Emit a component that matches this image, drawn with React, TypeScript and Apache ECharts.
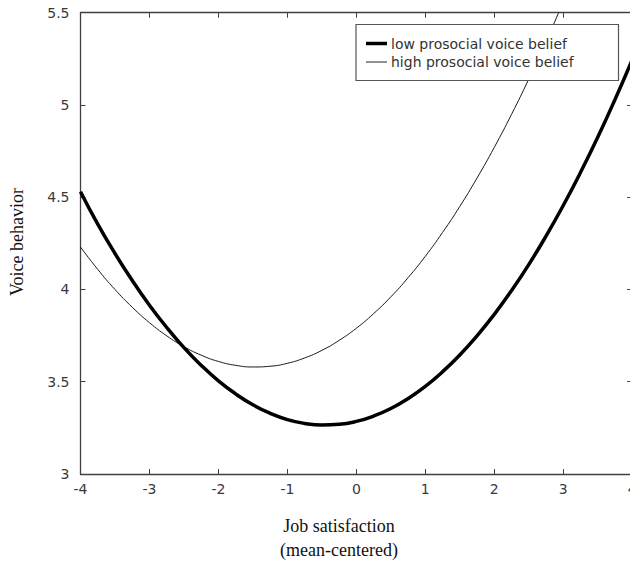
import React, { useEffect, useRef } from "react";
import * as echarts from "echarts";

const xValues = [
  -4, -3.75, -3.5, -3.25, -3, -2.75, -2.5, -2.25, -2, -1.75, -1.5, -1.25, -1, -0.75, -0.5, -0.25,
  0, 0.25, 0.5, 0.75, 1, 1.25, 1.5, 1.75, 2, 2.25, 2.5, 2.75, 3, 3.25, 3.5, 3.75, 4,
];
const lowBelief = [
  4.53, 4.354, 4.195, 4.049, 3.915, 3.794, 3.685, 3.589, 3.505, 3.434, 3.375, 3.329, 3.295, 3.274, 3.265, 3.269,
  3.285, 3.314, 3.355, 3.409, 3.475, 3.554, 3.645, 3.749, 3.865, 3.994, 4.135, 4.289, 4.455, 4.634, 4.825, 5.029, 5.245,
];
const highBelief = [
  4.23, 4.109, 4.0, 3.904, 3.82, 3.749, 3.69, 3.644, 3.61, 3.589, 3.58, 3.584, 3.6, 3.629, 3.67, 3.724,
  3.79, 3.869, 3.96, 4.064, 4.18, 4.309, 4.45, 4.604, 4.77, 4.949, 5.14, 5.344, 5.56, 5.789,
];
const seriesNames = ["low prosocial voice belief", "high prosocial voice belief"];
const xTitle = ["Job satisfaction", "(mean-centered)"];
const yTitle = "Voice behavior";

export default function App() {
  const ref = useRef<HTMLDivElement>(null);
  useEffect(() => {
    if (!ref.current) return;
    const chart = echarts.init(ref.current, null, { renderer: "svg" });
    const axisColor = "#404040";
    const labelFont = { fontFamily: "DejaVu Sans", fontSize: 14, color: "#3a3a3a" };
    const serif = "'Liberation Serif', 'Times New Roman', serif";
    const baseAxis = {
      axisLine: { show: true, onZero: false, lineStyle: { color: axisColor, width: 1.3 } },
      axisTick: { show: true, inside: true, length: 5, lineStyle: { color: axisColor } },
      splitLine: { show: false },
    };
    chart.setOption({
      animation: false,
      backgroundColor: "#ffffff",
      grid: {
        left: 80.5, top: 12.7, width: 551.7, height: 461.3,
        containLabel: false, outerBoundsMode: "none",
      },
      xAxis: [
        { type: "value", min: -4, max: 4, interval: 1, position: "bottom", ...baseAxis, axisLabel: { ...labelFont, margin: 8 } },
        { type: "value", min: -4, max: 4, interval: 1, position: "top", ...baseAxis, axisLabel: { show: false } },
      ],
      yAxis: [
        { type: "value", min: 3, max: 5.5, interval: 0.5, position: "left", ...baseAxis, axisLabel: { ...labelFont, margin: 11 } },
        { type: "value", min: 3, max: 5.5, interval: 0.5, position: "right", ...baseAxis, axisLabel: { show: false } },
      ],
      series: [
        {
          name: seriesNames[0], type: "line", smooth: true, showSymbol: false, clip: true,
          xAxisIndex: 0, yAxisIndex: 0,
          lineStyle: { color: "#000000", width: 3.5 },
          data: lowBelief.map((v, i) => [xValues[i], v]),
          z: 3,
        },
        {
          name: seriesNames[1], type: "line", smooth: true, showSymbol: false, clip: true,
          xAxisIndex: 0, yAxisIndex: 0,
          lineStyle: { color: "#1a1a1a", width: 1 },
          data: highBelief.map((v, i) => [xValues[i], v]),
          z: 2,
        },
      ],
      graphic: [
        {
          type: "rect", z: 100,
          shape: { x: 356, y: 24.5, width: 262.5, height: 56 },
          style: { fill: "#ffffff", stroke: "#555555", lineWidth: 1.2 },
        },
        {
          type: "line", z: 101,
          shape: { x1: 366, y1: 43.5, x2: 387, y2: 43.5 },
          style: { stroke: "#000000", lineWidth: 3.5 },
        },
        {
          type: "line", z: 101,
          shape: { x1: 366, y1: 62, x2: 387, y2: 62 },
          style: { stroke: "#222222", lineWidth: 1 },
        },
        {
          type: "text", z: 101, x: 391, y: 43.5,
          style: { text: seriesNames[0], fontFamily: "DejaVu Sans", fontSize: 14, fill: "#333333", verticalAlign: "middle" },
        },
        {
          type: "text", z: 101, x: 391, y: 62,
          style: { text: seriesNames[1], fontFamily: "DejaVu Sans", fontSize: 14, fill: "#333333", verticalAlign: "middle" },
        },
        {
          type: "text", z: 101, x: 339, y: 526,
          style: { text: xTitle[0], fontFamily: serif, fontSize: 18, fill: "#111111", align: "center", verticalAlign: "middle" },
        },
        {
          type: "text", z: 101, x: 339, y: 550,
          style: { text: xTitle[1], fontFamily: serif, fontSize: 18, fill: "#111111", align: "center", verticalAlign: "middle" },
        },
        {
          type: "text", z: 101, x: 17, y: 242, rotation: Math.PI / 2,
          style: { text: yTitle, fontFamily: serif, fontSize: 18, fill: "#111111", align: "center", verticalAlign: "middle" },
        },
      ],
    });
    return () => chart.dispose();
  }, []);
  return (
    <div
      ref={ref}
      style={{ position: "absolute", left: 0, top: 0, width: 630, height: 565 }}
    />
  );
}
